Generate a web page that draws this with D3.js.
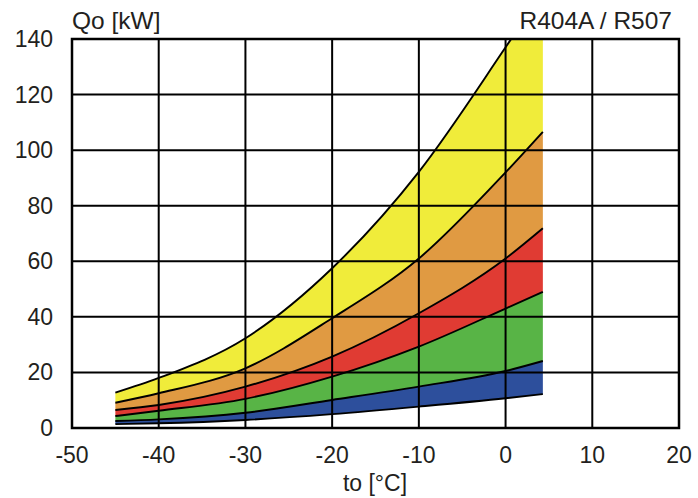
<!DOCTYPE html>
<html>
<head>
<meta charset="utf-8">
<script src="https://cdn.jsdelivr.net/npm/d3@7"></script>
<style>
  body { margin: 0; background: #fff; }
  svg text { font-family: "Liberation Sans", Arial, sans-serif; fill: #231f20; }
</style>
</head>
<body>
<svg id="chart" width="698" height="498"></svg>
<script>
// evaporating temperature [°C]
const temps = [-45, -40, -30, -20, -10, 0, 4.3];
// boundary curves Qo [kW], bottom to top
const curve1 = [1.4, 1.7, 2.9, 5.0, 7.7, 10.7, 12.2];
const curve2 = [2.5, 3.1, 5.5, 10.1, 14.9, 20.5, 24.1];
const curve3 = [4.3, 6.2, 10.5, 18.5, 29.3, 43.0, 49.0];
const curve4 = [6.5, 8.3, 14.9, 25.7, 41.3, 61.0, 71.9];
const curve5 = [9.1, 12.5, 21.5, 39.5, 61.0, 92.0, 106.6];
const curve6 = [12.7, 18.0, 32.3, 57.5, 92.2, 137.0, 157.0];
const bandColors = ["#2d4f9c", "#58b446", "#e03b33", "#e09a42", "#f0ec3a"];

const xTicks = [-50, -40, -30, -20, -10, 0, 10, 20];
const yTicks = [0, 20, 40, 60, 80, 100, 120, 140];

let svg = d3.select("#chart");
let pLeft = 72, pTop = 39, pRight = 679, pBottom = 428;

let xScale = d3.scaleLinear().domain([-50, 20]).range([pLeft, pRight]);
let yScale = d3.scaleLinear().domain([0, 140]).range([pBottom, pTop]);

svg.append("clipPath").attr("id", "plotClip")
    .append("rect")
    .attr("x", pLeft).attr("y", pTop)
    .attr("width", pRight - pLeft).attr("height", pBottom - pTop);

let curves = [curve1, curve2, curve3, curve4, curve5, curve6];
let rows = temps.map((t, i) => ({t: t, v: curves.map(c => c[i])}));

let plot = svg.append("g").attr("clip-path", "url(#plotClip)");

// colored bands between neighbouring curves
bandColors.forEach(function (col, k) {
    let area = d3.area()
        .x(d => xScale(d.t))
        .y0(d => yScale(d.v[k]))
        .y1(d => yScale(d.v[k + 1]))
        .curve(d3.curveMonotoneX);
    plot.append("path")
        .datum(rows)
        .attr("d", area)
        .attr("fill", col);
});

// grid
let grid = svg.append("g").attr("stroke", "#000").attr("stroke-width", 2);
grid.selectAll(".vgrid")
    .data(xTicks.slice(1, -1))
    .join("line")
    .attr("x1", d => xScale(d)).attr("x2", d => xScale(d))
    .attr("y1", pTop).attr("y2", pBottom);
grid.selectAll(".hgrid")
    .data(yTicks.slice(1, -1))
    .join("line")
    .attr("x1", pLeft).attr("x2", pRight)
    .attr("y1", d => yScale(d)).attr("y2", d => yScale(d));

// curve lines
let lines = svg.append("g").attr("clip-path", "url(#plotClip)");
curves.forEach(function (c, k) {
    let line = d3.line()
        .x(d => xScale(d.t))
        .y(d => yScale(d.v[k]))
        .curve(d3.curveMonotoneX);
    lines.append("path")
        .datum(rows)
        .attr("d", line)
        .attr("fill", "none")
        .attr("stroke", "#000")
        .attr("stroke-width", 1.9);
});

// frame
svg.append("rect")
    .attr("x", pLeft).attr("y", pTop)
    .attr("width", pRight - pLeft).attr("height", pBottom - pTop)
    .attr("fill", "none")
    .attr("stroke", "#000")
    .attr("stroke-width", 2.5);

// tick labels
svg.selectAll(".ylab")
    .data(yTicks)
    .join("text")
    .attr("x", 53)
    .attr("y", d => yScale(d))
    .attr("dy", "0.35em")
    .attr("text-anchor", "end")
    .attr("font-size", 23)
    .text(d => d);

svg.selectAll(".xlab")
    .data(xTicks)
    .join("text")
    .attr("x", d => xScale(d))
    .attr("y", 463)
    .attr("text-anchor", "middle")
    .attr("font-size", 23)
    .text(d => d);

// titles
svg.append("text")
    .attr("x", 72).attr("y", 29)
    .attr("font-size", 24.5)
    .text("Qo [kW]");
svg.append("text")
    .attr("x", 672).attr("y", 29)
    .attr("text-anchor", "end")
    .attr("font-size", 24.5)
    .text("R404A / R507");
svg.append("text")
    .attr("x", 375).attr("y", 491)
    .attr("text-anchor", "middle")
    .attr("font-size", 23)
    .text("to [°C]");
</script>
</body>
</html>
